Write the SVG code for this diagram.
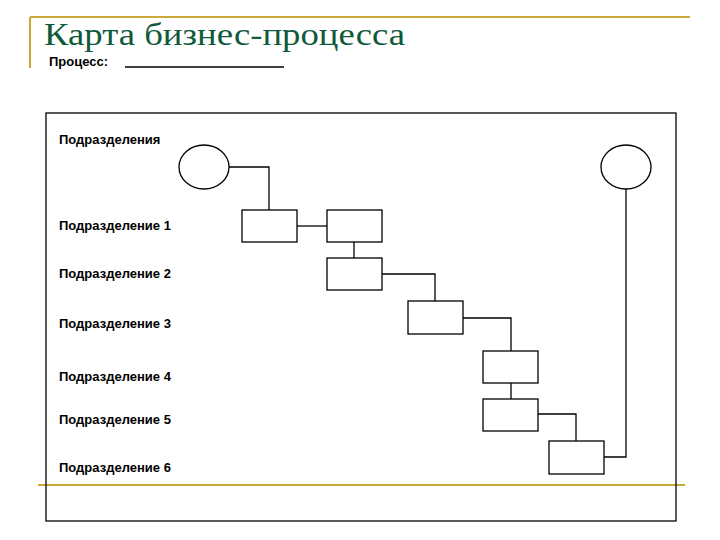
<svg xmlns="http://www.w3.org/2000/svg" width="720" height="540" viewBox="0 0 720 540">
<style>
.s{fill:#fff;stroke:#000;stroke-width:1.3}
.c{fill:none;stroke:#000;stroke-width:1.3}
.l{font-family:"Liberation Sans",Arial,sans-serif;font-weight:bold;font-size:13px;fill:#000}
.g{stroke:#c8a93a;stroke-width:2;fill:none}
</style>
<rect width="720" height="540" fill="#fff"/>
<g id="decor">
<line class="g" x1="30" y1="17" x2="690" y2="17"/>
<line class="g" x1="30" y1="17" x2="30" y2="68"/>
<line class="g" x1="38" y1="485" x2="685" y2="485" stroke-width="1.5"/>
</g>
<text x="44" y="45" font-family="Liberation Serif,serif" font-size="32" fill="#0f5a3a" textLength="361" lengthAdjust="spacingAndGlyphs">Карта бизнес-процесса</text>
<text class="l" x="49" y="66">Процесс:</text>
<line x1="125" y1="67" x2="284" y2="67" stroke="#000" stroke-width="1.3"/>
<rect x="46" y="113" width="630" height="408" fill="none" stroke="#000" stroke-width="1.3"/>
<g id="labels">
<text class="l" x="59" y="144">Подразделения</text>
<text class="l" x="59" y="230">Подразделение 1</text>
<text class="l" x="59" y="278">Подразделение 2</text>
<text class="l" x="59" y="328">Подразделение 3</text>
<text class="l" x="59" y="381">Подразделение 4</text>
<text class="l" x="59" y="424">Подразделение 5</text>
<text class="l" x="59" y="472">Подразделение 6</text>
</g>
<g id="connectors">
<polyline class="c" points="228,167 269,167 269,210"/>
<line class="c" x1="297" y1="226" x2="327" y2="226"/>
<line class="c" x1="354" y1="242" x2="354" y2="258"/>
<polyline class="c" points="382,274 435,274 435,301"/>
<polyline class="c" points="463,318 511,318 511,351"/>
<line class="c" x1="511" y1="383" x2="511" y2="399"/>
<polyline class="c" points="538,414 576,414 576,441"/>
<polyline class="c" points="626,189 626,457 604,457"/>
</g>
<g id="start"><ellipse class="s" cx="204" cy="167" rx="25" ry="22"/></g>
<g id="end"><ellipse class="s" cx="626" cy="167" rx="25" ry="22"/></g>
<g id="b1"><rect class="s" x="242" y="210" width="55" height="32"/></g>
<g id="b2"><rect class="s" x="327" y="210" width="55" height="32"/></g>
<g id="b3"><rect class="s" x="327" y="258" width="55" height="32"/></g>
<g id="b4"><rect class="s" x="408" y="301" width="55" height="33"/></g>
<g id="b5"><rect class="s" x="483" y="351" width="55" height="32"/></g>
<g id="b6"><rect class="s" x="483" y="399" width="55" height="32"/></g>
<g id="b7"><rect class="s" x="549" y="441" width="55" height="33"/></g>
</svg>
